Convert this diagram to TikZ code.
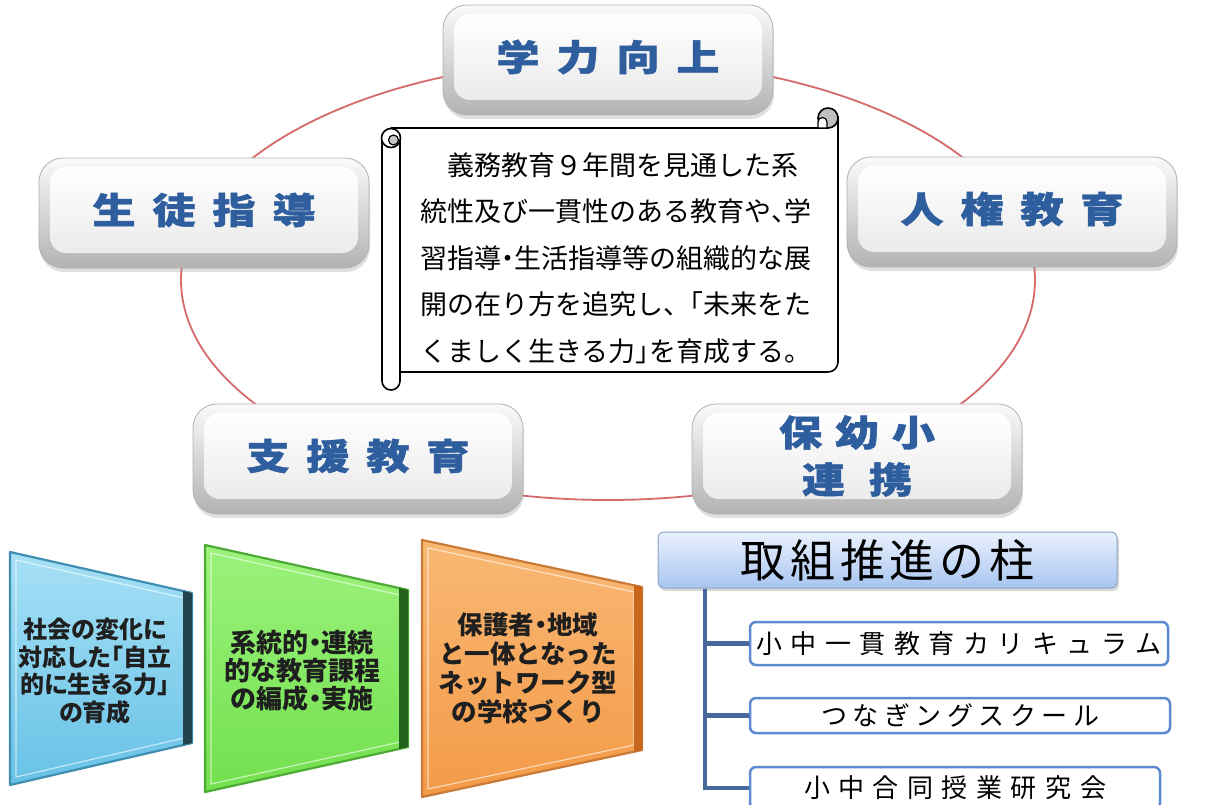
\documentclass[tikz,border=0pt]{standalone}
\usepackage{fontspec}
\usepackage{graphicx}
\usetikzlibrary{shadows}
\newfontfamily\jp{Noto Sans CJK JP}
\newfontfamily\jpx{Noto Sans CJK JP}[BoldFeatures={FakeBold=1.2}]
\newfontfamily\jpp{Noto Sans CJK JP}[RawFeature=+palt]
\definecolor{btnblue}{HTML}{2E5E9E}
\definecolor{ringred}{HTML}{D46A6A}
\definecolor{headtop}{HTML}{EAF1FD}
\definecolor{headbot}{HTML}{A8C5F0}
\definecolor{headbd}{HTML}{8EA6C8}
\definecolor{subbd}{HTML}{5B8AD0}
\definecolor{connc}{HTML}{46689C}
\definecolor{bluetop}{HTML}{A6E0F5}
\definecolor{bluebot}{HTML}{68C2E6}
\definecolor{bluebd}{HTML}{3F8FB2}
\definecolor{bluestrip}{HTML}{22444E}
\definecolor{greentop}{HTML}{9CF27C}
\definecolor{greenbot}{HTML}{72E04E}
\definecolor{greenbd}{HTML}{4DAA34}
\definecolor{greenstrip}{HTML}{24601E}
\definecolor{orangetop}{HTML}{F9B874}
\definecolor{orangebot}{HTML}{F39A48}
\definecolor{orangebd}{HTML}{C97A36}
\definecolor{orangestrip}{HTML}{C8661E}
\makeatletter
\newcommand\lspc[2]{\def\lspc@gap{\hspace*{#1}}\lspc@first#2\relax}
\def\lspc@first#1{#1\lspc@next}
\def\lspc@next#1{\ifx\relax#1\else\lspc@gap#1\expandafter\lspc@next\fi}
\makeatother
\newcommand\hwl[1]{\makebox[0.5em][l]{#1}}
\newcommand\hwc[1]{\makebox[0.5em][c]{#1}}
\newcommand\btxt[2]{\scalebox{1.2}[1]{\lspc{#1}{#2}}}
\begin{document}
\begin{tikzpicture}[x=1pt,y=-1pt,
  btn/.style={rounded corners=24pt, minimum width=330pt, minimum height=110pt, inner sep=0pt,
    draw=black!30, line width=0.8pt, top color=black!2, bottom color=black!30,
    drop shadow={shadow xshift=1pt, shadow yshift=-4pt, opacity=0.25}},
  btnin/.style={rounded corners=16pt, minimum width=308pt, minimum height=86pt, inner sep=0pt,
    top color=white, bottom color=black!8, text=btnblue, align=center,
    font=\jpx\bfseries\fontsize{36}{47}\selectfont},
  ttxt/.style={align=center, inner sep=0pt, text=black!88},
  head/.style={rounded corners=6pt, draw=headbd, line width=1pt, top color=headtop, bottom color=headbot,
    minimum width=459pt, minimum height=56pt, inner sep=0pt, font=\jp\fontsize{45}{50}\selectfont,
    drop shadow={shadow xshift=2pt, shadow yshift=-3pt, opacity=0.3}},
  sub/.style={rounded corners=6pt, draw=subbd, line width=2.5pt, fill=white, inner sep=0pt,
    font=\jp\fontsize{26}{30}\selectfont},
  conn/.style={draw=connc, line width=4.5pt},
  scrl/.style={draw=black, line width=1.6pt}]
\useasboundingbox (0,0) rectangle (1220,805);
\clip (0,0) rectangle (1220,805);
\fill[white] (0,0) rectangle (1220,805);

% ring
\draw[ringred, line width=1.8pt] (608,280) ellipse [x radius=427, y radius=220];

% buttons
\node[btn] (bTopO) at (608,60) {};
\node[btnin] (bTop) at ([yshift=3pt]bTopO.center) {\btxt{14pt}{学力向上}};
\node[btn] (bSeitoO) at (204,213) {};
\node[btnin] (bSeito) at ([yshift=3pt]bSeitoO.center) {\btxt{14pt}{生徒指導}};
\node[btn] (bJinkenO) at (1012,212) {};
\node[btnin] (bJinken) at ([yshift=3pt]bJinkenO.center) {\btxt{14pt}{人権教育}};
\node[btn] (bShienO) at (358,459) {};
\node[btnin] (bShien) at ([yshift=3pt]bShienO.center) {\btxt{14pt}{支援教育}};
\node[btn] (bHoyoO) at (857,459) {};
\node[btnin] (bHoyo) at ([yshift=3pt]bHoyoO.center) {\btxt{11pt}{保幼小}\\\btxt{20pt}{連携}};

% scroll
\filldraw[scrl, fill=white] (392,128) -- (828,128) -- (838,118) -- (838,362)
  arc[start angle=0, end angle=90, radius=10] -- (400,372) -- (400,138) -- cycle;
\filldraw[scrl, fill=white] (382,138) -- (382,381) arc[start angle=180, end angle=0, radius=9] -- (400,138);
\filldraw[scrl, fill=white] (391,138) circle[radius=9.5];
\filldraw[line width=1.2pt, fill=black!22] (393.5,140) circle[radius=5];
\filldraw[scrl, fill=black!25] (828,118) circle[radius=10];
\filldraw[line width=1.2pt, fill=white] (818,128) -- (818,122) arc[start angle=180, end angle=360, radius=4.5] -- (827,128) -- cycle;
\node[font=\jp\fontsize{27}{46.5}\selectfont, align=left, inner sep=0pt, anchor=west] (msg) at (420,258)
  {　義務教育９年間を見通した系\\
   統性及び一貫性のある教育や\hwl{、}学\\
   習指導\hwc{・}生活指導等の組織的な展\\
   開の在り方を追究し\hwl{、}「未来をた\\
   くましく生きる力\hwl{」}を育成する。};

% trapezoids
\shade[top color=bluetop, bottom color=bluebot] (10,552) -- (192,593) -- (192,743) -- (10,785) -- cycle;
\draw[bluebd, line width=2.2pt, line join=round] (10,552) -- (192,593) -- (192,743) -- (10,785) -- cycle;
\draw[white, opacity=0.6, line width=1.2pt] (16,560) -- (184,598) -- (184,738) -- (16,777) -- cycle;
\fill[bluestrip] (183,591) -- (192,593) -- (192,743) -- (183,745) -- cycle;
\node[ttxt, font=\jpp\bfseries\fontsize{24}{27.5}\selectfont] (tBlue) at (95,671)
  {社会の変化に\\対応した「自立\\的に生きる力」\\の育成};

\shade[top color=greentop, bottom color=greenbot] (205,545) -- (408,590) -- (408,747) -- (205,792) -- cycle;
\draw[greenbd, line width=2.2pt, line join=round] (205,545) -- (408,590) -- (408,747) -- (205,792) -- cycle;
\draw[white, opacity=0.6, line width=1.2pt] (211,553) -- (400,595) -- (400,742) -- (211,784) -- cycle;
\fill[greenstrip] (399,588) -- (408,590) -- (408,747) -- (399,749) -- cycle;
\node[ttxt, font=\jp\bfseries\fontsize{26}{28}\selectfont] (tGreen) at (302,671)
  {系統的\hwc{・}連続\\的な教育課程\\の編成\hwc{・}実施};

\shade[top color=orangetop, bottom color=orangebot] (422,540) -- (642,587) -- (642,750) -- (422,797) -- cycle;
\draw[orangebd, line width=2.2pt, line join=round] (422,540) -- (642,587) -- (642,750) -- (422,797) -- cycle;
\draw[white, opacity=0.6, line width=1.2pt] (428,548) -- (634,592) -- (634,745) -- (428,789) -- cycle;
\fill[orangestrip] (634,585) -- (642,587) -- (642,750) -- (634,752) -- cycle;
\node[ttxt, font=\jp\bfseries\fontsize{25.5}{29}\selectfont] (tOrange) at (528,668)
  {保護者\hwc{・}地域\\と一体となった\\ネットワーク型\\の学校づくり};

% pillars
\node[head] (head) at (887.5,560) {\lspc{5pt}{取組推進の柱}};
\coordinate (trunk) at (705,588);
\node[sub, minimum width=418pt, minimum height=43pt] (s1) at (959,643.5) {\lspc{8.5pt}{小中一貫教育カリキュラム}};
\node[sub, minimum width=420pt, minimum height=35pt] (s2) at (960,715.5) {\lspc{5.5pt}{つなぎングスクール}};
\node[sub, minimum width=410pt, minimum height=42pt] (s3) at (955,788) {\lspc{8.5pt}{小中合同授業研究会}};
\draw[conn] (head.south -| trunk) |- (s1.west);
\draw[conn] (head.south -| trunk) |- (s2.west);
\draw[conn] (head.south -| trunk) |- (s3.west);
\end{tikzpicture}
\end{document}
